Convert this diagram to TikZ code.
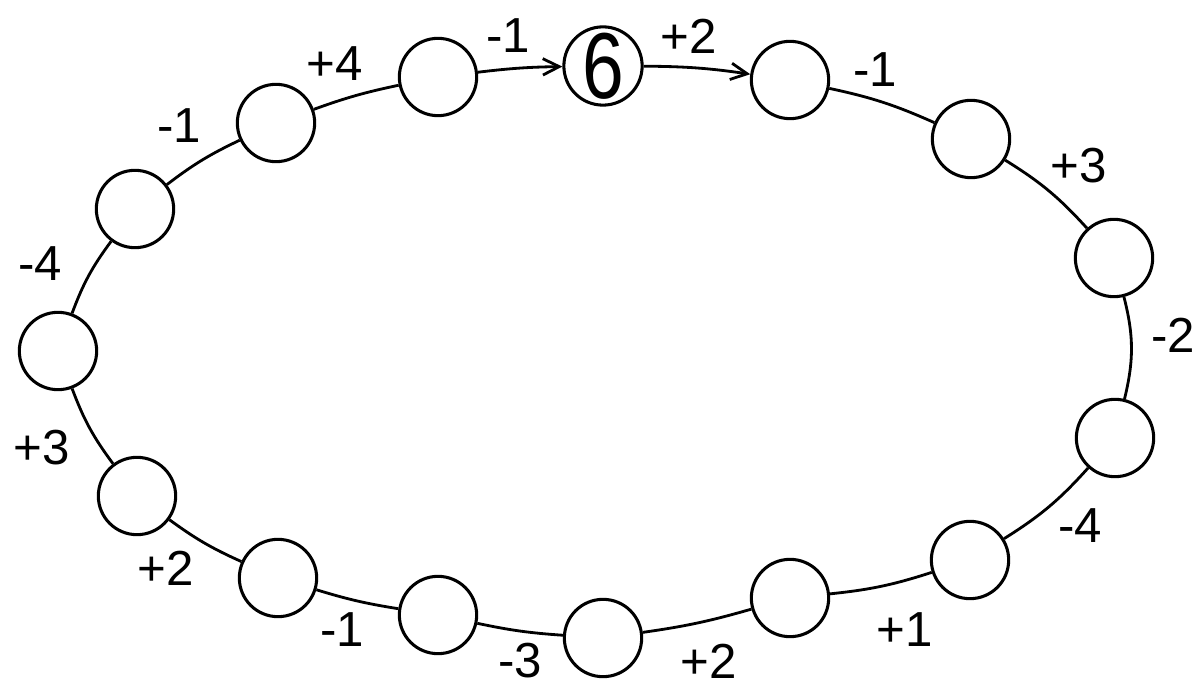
\documentclass[tikz,border=0pt]{standalone}
\usepackage{fontspec}
\setmainfont{Liberation Sans}
\usetikzlibrary{arrows.meta}

\begin{document}
\begin{tikzpicture}[x=0.015cm,y=-0.015cm,>={Straight Barb[length=7pt,width=7pt]},line width=1.2pt,
    ring/.style={draw, circle, minimum size=1.16cm, inner sep=0pt, fill=white, line width=1.3pt},
    val/.style={font=\fontsize{21}{21}\selectfont, inner sep=0pt}]
    \useasboundingbox (0,0) rectangle (1196,688);

    % the ring of cells
    \node (c1) [ring] at (603,66) {\fontsize{40}{40}\selectfont\scalebox{0.8}[1]{6}};
    \node (c2) [ring] at (790,80) {};
    \node (c3) [ring] at (971,139) {};
    \node (c4) [ring] at (1114,258) {};
    \node (c5) [ring] at (1115,438) {};
    \node (c6) [ring] at (970,560) {};
    \node (c7) [ring] at (790,598) {};
    \node (c8) [ring] at (603,638) {};
    \node (c9) [ring] at (438,615) {};
    \node (c10) [ring] at (278,578) {};
    \node (c11) [ring] at (137,496) {};
    \node (c12) [ring] at (58,351) {};
    \node (c13) [ring] at (135,209) {};
    \node (c14) [ring] at (276,123) {};
    \node (c15) [ring] at (438,77) {};

    \draw[->] (c15) to[bend left=3] (c1);
    \draw[->] (c1) to[bend left=4] (c2);
    \draw (c2) to[bend left=6] (c3);
    \draw (c3) to[bend left=8] (c4);
    \draw (c4) to[bend left=14] (c5);
    \draw (c5) to[bend left=8] (c6);
    \draw (c6) to[bend left=6] (c7);
    \draw (c7) to[bend left=4] (c8);
    \draw (c8) to[bend left=4] (c9);
    \draw (c9) to[bend left=4] (c10);
    \draw (c10) to[bend left=6] (c11);
    \draw (c11) to[bend left=8] (c12);
    \draw (c12) to[bend left=8] (c13);
    \draw (c13) to[bend left=6] (c14);
    \draw (c14) to[bend left=4] (c15);

    % steps between cells
    \node (v1) [val] at (508,36) {-1};
    \node (v2) [val] at (689,36) {+2};
    \node (v3) [val] at (875,70) {-1};
    \node (v4) [val] at (1079,166) {+3};
    \node (v5) [val] at (1173,335) {-2};
    \node (v6) [val] at (1080,526) {-4};
    \node (v7) [val] at (905,630) {+1};
    \node (v8) [val] at (709,661) {+2};
    \node (v9) [val] at (520,661) {-3};
    \node (v10) [val] at (342,630) {-1};
    \node (v11) [val] at (166,568) {+2};
    \node (v12) [val] at (42,448) {+3};
    \node (v13) [val] at (40,264) {-4};
    \node (v14) [val] at (179,126) {-1};
    \node (v15) [val] at (335,64) {+4};
\end{tikzpicture}
\end{document}
